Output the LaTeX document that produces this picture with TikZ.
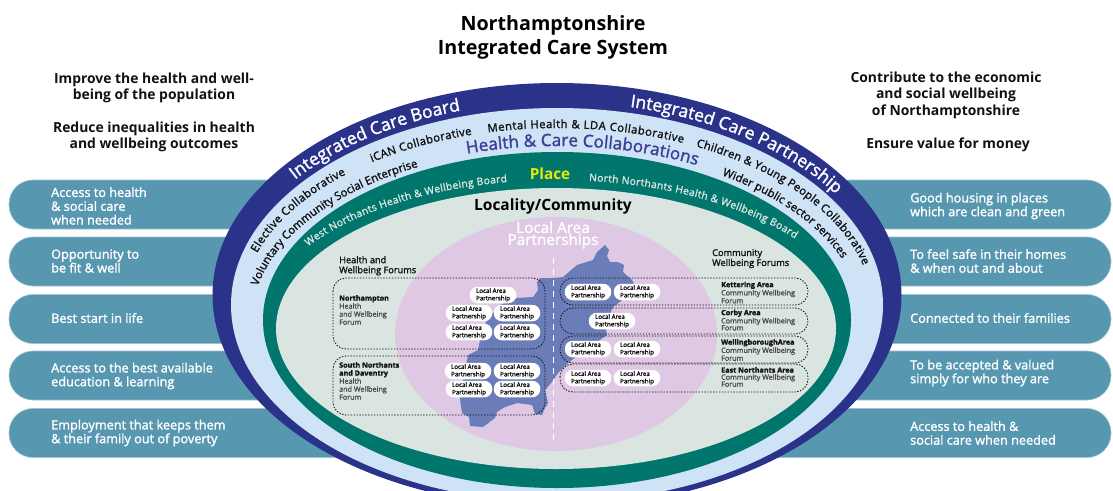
\documentclass[tikz,border=0pt]{standalone}
\usepackage{fontspec}
\setmainfont{Open Sans}
\newfontfamily\medf[FakeBold=1.6]{Open Sans}
\usetikzlibrary{decorations.text}
\definecolor{navy}{HTML}{2B3289}
\definecolor{lblue}{HTML}{CFE3F7}
\definecolor{teal}{HTML}{00766C}
\definecolor{local}{HTML}{DAE5E1}
\definecolor{pinkc}{HTML}{DFC8E3}
\definecolor{mapc}{HTML}{6B7DB8}
\definecolor{barc}{HTML}{5797B0}
\definecolor{barl}{HTML}{9CC4D2}
\definecolor{hcc}{HTML}{3B3F96}
\definecolor{yel}{HTML}{E6E80E}
\definecolor{ink}{HTML}{111111}
\newcommand{\fs}[2]{\fontsize{#1}{#2}\selectfont}
% cx cy rx ry x1 x2 text
\newcommand{\arctext}[7]{%
  \pgfmathsetmacro{\aone}{acos((#5-#1)/#3)}%
  \pgfmathsetmacro{\atwo}{acos((#6-#1)/#3)}%
  \pgfmathsetmacro{\yone}{#2-#4*sin(\aone)}%
  \path[decorate,decoration={text along path,text={#7},text align={fit to path}}]
    (#5,\yone) arc[start angle=\aone,end angle=\atwo,x radius=#3pt,y radius=#4pt];
}
\tikzset{
  x=1pt,y=-1pt,
  barshape/.style={fill=barc,draw=barl,line width=.6pt,rounded corners=24pt,minimum width=1102pt,minimum height=49pt,inner sep=0pt},
  bartext/.style={anchor=west,align=left,inner sep=0pt,text=white,font=\medf\fs{12.7}{13.8}},
  headtext/.style={align=center,inner sep=0pt,text=ink,font=\bfseries\fs{13.9}{16.5}},
  pill/.style={fill=white,rounded corners=8pt,minimum width=46.5pt,minimum height=16.5pt,inner sep=0pt,align=left,text=ink,font=\medf\fs{6.2}{7.4}},
  forumbox/.style={draw=ink,line width=.85pt,dash pattern=on 1.4pt off 1.5pt,rounded corners=13pt},
  forumtitle/.style={anchor=north west,align=left,inner sep=0pt,text=ink,font=\medf\fs{9.2}{10}},
  forumtext/.style={anchor=north west,align=left,inner sep=0pt,text=ink!75,font=\medf\fs{7.2}{8}},
}
\begin{document}
\begin{tikzpicture}
\useasboundingbox (0,0) rectangle (1113,490);
\clip (0,0) rectangle (1113,490);
% bars
\node[barshape] (barA) at (560,204.5) {};
\node[barshape] (barB) at (560,261.5) {};
\node[barshape] (barC) at (560,319) {};
\node[barshape] (barD) at (560,375.5) {};
\node[barshape] (barE) at (560,433) {};
% ellipses
\fill[navy] (557,295) ellipse [x radius=344.5,y radius=212];
\fill[lblue] (557,305) ellipse [x radius=326,y radius=197];
\fill[teal] (557,320) ellipse [x radius=294,y radius=168];
\fill[local] (556,328.5) ellipse [x radius=280,y radius=140.5];
\fill[pinkc] (556,334) ellipse [x radius=161,y radius=117];
% map
\fill[mapc] (605,245)--(609,250)--(607,256)--(610,262)--(618,262)--(624,265)--(623,272)--(632,280)--(634,284)--(628,292)--(625,298)--(613,307)--(605,325)--(607,335)--(600,340)--(585,350)--(568,363)--(558,373)--(552,382)--(545,390)--(548,403)--(545,408)--(542,415)--(535,414)--(532,405)--(517,403)--(505,407)--(497,412)--(495,418)--(483,427)--(470,426)--(469,417)--(462,413)--(460,399)--(464,375)--(468,355)--(478,350)--(481,335)--(487,320)--(500,305)--(517,298)--(533,297)--(538,290)--(537,282)--(540,278)--(553,278)--(563,277)--(577,265)--(593,260)--(597,252)--cycle;
\draw[white,line width=.9pt,dash pattern=on 6pt off 5pt] (553,258)--(553,440);
% forum boxes
\draw[forumbox] (333,278) rectangle (545,349);
\draw[forumbox] (333,356) rectangle (545,415);
\draw[forumbox] (560,278) rectangle (808,305);
\draw[forumbox] (560,308) rectangle (808,334);
\draw[forumbox] (560,336) rectangle (808,363);
\draw[forumbox] (560,364) rectangle (808,392);
% pills
\node[pill] (p1) at (493,295) {Local Area\\Partnership};
\node[pill] (p2) at (469,313) {Local Area\\Partnership};
\node[pill] (p3) at (517,313) {Local Area\\Partnership};
\node[pill] (p4) at (469,332) {Local Area\\Partnership};
\node[pill] (p5) at (517,332) {Local Area\\Partnership};
\node[pill] (p6) at (468,371) {Local Area\\Partnership};
\node[pill] (p7) at (517,371) {Local Area\\Partnership};
\node[pill] (p8) at (469,389) {Local Area\\Partnership};
\node[pill] (p9) at (517,389) {Local Area\\Partnership};
\node[pill] (p10) at (588,292) {Local Area\\Partnership};
\node[pill] (p11) at (637,292) {Local Area\\Partnership};
\node[pill] (p12) at (612,321) {Local Area\\Partnership};
\node[pill] (p13) at (588,349) {Local Area\\Partnership};
\node[pill] (p14) at (637,349) {Local Area\\Partnership};
\node[pill] (p15) at (588,378) {Local Area\\Partnership};
\node[pill] (p16) at (637,378) {Local Area\\Partnership};
% titles
\node[align=center,inner sep=0pt,text=black,font=\bfseries\fs{19.7}{24}] (title) at (553,37) {Northamptonshire\\Integrated Care System};
\node[headtext] (lh1) at (154,88) {Improve the health and well-\\being of the population};
\node[headtext] (lh2) at (154,137) {Reduce inequalities in health\\and wellbeing outcomes};
\node[headtext] (rh1) at (946,95) {Contribute to the economic\\and social wellbeing\\of Northamptonshire};
\node[headtext] (rh2) at (948,144.5) {Ensure value for money};
% bar text
\node[bartext] (la) at (51,206) {Access to health\\\& social care\\when needed};
\node[bartext] (lb) at (51,261) {Opportunity to\\be fit \& well};
\node[bartext] (lc) at (51,318) {Best start in life};
\node[bartext] (ld) at (51,376) {Access to the best available\\education \& learning};
\node[bartext] (le) at (51,433) {Employment that keeps them\\\& their family out of poverty};
\node[bartext] (ra) at (910,206) {Good housing in places\\which are clean and green};
\node[bartext] (rb) at (910,261) {To feel safe in their homes\\\& when out and about};
\node[bartext] (rc) at (910,318) {Connected to their families};
\node[bartext] (rd) at (910,373) {To be accepted \& valued\\simply for who they are};
\node[bartext] (re) at (910,433) {Access to health \&\\social care when needed};
% curved text
\arctext{557}{302}{331}{200}{295}{460}{|\fs{17.5}{18}\medf\color{white}|Integrated Care Board}
\arctext{557}{302}{331}{200}{630}{833}{|\fs{17.5}{18}\medf\color{white}|Integrated Care Partnership}
\arctext{557}{308}{315}{180}{257}{346}{|\fs{11.3}{12}\medf\color{ink}|Elective Collaborative}
\arctext{557}{308}{315}{180}{372}{472}{|\fs{11.3}{12}\medf\color{ink}|iCAN Collaborative}
\arctext{557}{308}{315}{180}{488}{683}{|\fs{11.3}{12}\medf\color{ink}|Mental Health {\&} LDA Collaborative}
\arctext{557}{308}{315}{180}{696}{863}{|\fs{11.3}{12}\medf\color{ink}|Children {\&} Young People Collaborative}
\arctext{557}{320}{305}{172}{258}{418}{|\fs{11.3}{12}\medf\color{ink}|Voluntary Community Social Enterprise}
\arctext{557}{320}{305}{172}{722}{842}{|\fs{11.3}{12}\medf\color{ink}|Wider public sector services}
\arctext{557}{318}{305}{172}{467}{697}{|\fs{17}{18}\medf\color{hcc}|Health {\&} Care Collaborations}
\arctext{557}{330}{300}{150}{308}{507}{|\fs{10.3}{12}\medf\color{local}|West Northants Health {\&} Wellbeing Board}
\arctext{557}{330}{300}{150}{589}{795}{|\fs{10.3}{12}\medf\color{local}|North Northants Health {\&} Wellbeing Board}
% centre labels
\node[inner sep=0pt,text=yel,font=\bfseries\fs{15.3}{16}] (place) at (550,174) {Place};
\node[inner sep=0pt,text=black,font=\bfseries\fs{15.5}{18}] (loc) at (553,206) {Locality/Community};
\node[align=center,inner sep=0pt,text=white,font=\medf\fs{15.3}{12}] (lap) at (553,235) {Local Area\\Partnerships};
% forum text
\node[forumtitle] (hw) at (339,256) {Health and\\Wellbeing Forums};
\node[forumtext] (n1) at (339,295) {{\bfseries\color{ink}Northampton}\\Health\\and Wellbeing\\Forum};
\node[forumtext] (s1) at (339,362) {{\bfseries\color{ink}South Northants}\\{\bfseries\color{ink}and Daventry}\\Health\\and Wellbeing\\Forum};
\node[forumtitle] (cw) at (712,249) {Community\\Wellbeing Forums};
\node[forumtext,font=\medf\fs{7.2}{6.3}] (k1) at (721,281.5) {{\bfseries\color{ink}Kettering Area}\\Community Wellbeing\\Forum};
\node[forumtext,font=\medf\fs{7.2}{7}] (c1) at (721,309.5) {{\bfseries\color{ink}Corby Area}\\Community Wellbeing\\Forum};
\node[forumtext,font=\medf\fs{7.2}{6.5}] (w1) at (721,339) {{\bfseries\color{ink}WellingboroughArea}\\Community Wellbeing\\Forum};
\node[forumtext,font=\medf\fs{7.2}{7}] (e1) at (721,367) {{\bfseries\color{ink}East Northants Area}\\Community Wellbeing\\Forum};
\end{tikzpicture}
\end{document}
